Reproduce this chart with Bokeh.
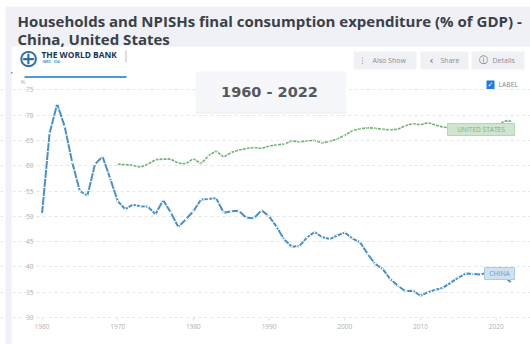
from bokeh.plotting import figure
from bokeh.models import Label, BoxAnnotation, Range1d, FixedTicker
from bokeh.embed import file_html
from bokeh.resources import INLINE

years_china = list(range(1960, 2023))
china = [50.5, 66.4, 72.2, 67.7, 60.6, 55.0, 54.1, 60.3, 61.8, 57.5,
         53.0, 51.4, 52.3, 52.0, 51.9, 50.4, 53.2, 50.8, 47.9, 49.4,
         51.0, 53.3, 53.4, 53.6, 50.7, 51.0, 51.1, 49.7, 49.6, 51.2,
         50.0, 47.9, 45.4, 44.0, 44.1, 45.8, 46.9, 45.9, 45.5, 46.2,
         46.8, 45.6, 44.9, 42.6, 40.6, 39.6, 37.6, 36.3, 35.2, 35.3,
         34.3, 35.0, 35.5, 35.9, 36.9, 37.9, 38.7, 38.6, 38.5, 39.0,
         38.2, 38.1, 36.9]
years_us = list(range(1970, 2023))
us = [60.3, 60.2, 60.1, 59.7, 60.3, 61.2, 61.3, 61.3, 60.5, 60.4,
      61.4, 60.4, 62.0, 62.9, 61.7, 62.6, 63.1, 63.4, 63.6, 63.4,
      63.9, 64.1, 64.3, 64.9, 64.7, 64.9, 65.0, 64.5, 64.8, 65.3,
      66.0, 66.9, 67.3, 67.5, 67.4, 67.2, 67.1, 67.2, 67.9, 68.3,
      68.1, 68.5, 68.0, 67.6, 67.5, 67.9, 68.0, 68.0, 68.0, 68.0,
      67.5, 68.8, 68.8]
x_ticks = [1960, 1970, 1980, 1990, 2000, 2010, 2020]
y_ticks = [30, 35, 40, 45, 50, 55, 60, 65, 70, 75]
title_lines = ["Households and NPISHs final consumption expenditure (% of GDP) -",
               "China, United States"]

BLUE = "#4a90c6"
GREEN = "#6fb071"


def fx(px):
    return 1960 + (px - 41.5) / 7.57


def fy(py):
    return 30 + (317 - py) / 5.06


W, H = 530, 344
p = figure(width=W, height=H, output_backend="svg", toolbar_location=None,
           x_range=Range1d(fx(0), fx(W)), y_range=Range1d(fy(H), fy(0)),
           min_border=0)
p.outline_line_color = None
p.background_fill_color = "white"
p.border_fill_color = "white"

p.xgrid.visible = False
p.ygrid.grid_line_color = "#e6e6e6"
p.ygrid.grid_line_dash = "3 3"
p.ygrid.grid_line_width = 1
p.ygrid[0].bounds = (fx(38), fx(525))
p.xaxis.ticker = FixedTicker(ticks=x_ticks)
p.yaxis.ticker = FixedTicker(ticks=y_ticks)
for ax in (p.xaxis[0], p.yaxis[0]):
    ax.axis_line_color = None
    ax.major_tick_line_color = None
    ax.minor_tick_line_color = None
    ax.major_label_text_color = "#b0b0b0"
    ax.major_label_text_font = "Open Sans"
    ax.major_label_text_font_size = "6.5px"
p.yaxis[0].major_label_standoff = -39
p.xaxis[0].major_label_standoff = -27

p.segment(x_ticks, [fy(317)] * len(x_ticks), x_ticks, [fy(320)] * len(x_ticks),
          line_color="#e0e0e0", line_width=1)
p.line(years_us, us, line_color=GREEN, line_width=1.6, line_dash="3 1")
p.line(years_china, china, line_color=BLUE, line_width=2, line_dash="8 1")
p.scatter(years_china, china, size=2, fill_color="white", line_color=None)
p.scatter(years_us, us, size=1.2, fill_color="white", line_color=None)


def box(x0, y0, x1, y1, fill, line=None, level="underlay"):
    b = BoxAnnotation(left=fx(x0), right=fx(x1), top=fy(y0), bottom=fy(y1),
                      fill_color=fill, fill_alpha=1, line_color=line,
                      line_alpha=1 if line else 0, level=level)
    p.add_layout(b)


def text(x, y, s, size, color, style="normal", font="Open Sans", align="left", level="underlay"):
    p.add_layout(Label(x=fx(x), y=fy(y), text=s, text_font_size=f"{size}px", text_color=color,
                       text_font=font, text_font_style=style, text_align=align,
                       text_baseline="middle", level=level))


# title band and left strip
box(5, 6, 530, 46, "#eff1f6")
box(5, 46, 11, 344, "#eff1f6")
text(17, 20, title_lines[0], 15, "#3a4048", "bold")
text(17, 38, title_lines[1], 15, "#3a4048", "bold")

# logo
text(28, 58, "\u2295", 25, "#2f6f9f", font="DejaVu Sans", align="center")
text(41, 54, "THE WORLD BANK", 8.4, "#16365c", "bold")
text(42, 60.5, "IBRD \u00b7 IDA", 3.5, "#4a9bd0", "bold")
box(125, 50, 126, 62, "#b8bcc2")
box(24, 75.5, 126, 77.5, "#4f9bd4")
box(10.5, 71.5, 12, 73, "#4f9bd4")
text(20, 81, "%", 6, "#b0b0b0")

# period box
box(195, 71, 346, 113, "#f6f7fa")
box(195, 112, 346, 113, "#e9edf3")
text(269, 91, "1960 - 2022", 14.5, "#55585c", "bold", font="DejaVu Sans", align="center")

# buttons
box(353, 51, 416, 69, "#f0f1f5")
text(362, 59.5, "\u22ee", 7.5, "#666a70", font="DejaVu Sans", align="center")
text(372, 59.5, "Also Show", 7, "#8a8d92")
box(420, 51, 468, 69, "#f0f1f5")
text(431, 59.5, "\u2039", 11, "#666a70", font="DejaVu Sans", align="center")
text(440, 59.5, "Share", 7, "#8a8d92")
box(471, 51, 524, 69, "#f0f1f5")
text(483, 59.5, "\u24d8", 9, "#666a70", font="DejaVu Sans", align="center")
text(492, 59.5, "Details", 7, "#8a8d92")

# checkbox
box(486, 80, 494, 88.5, "#1e7be0")
text(490, 84, "\u2713", 7, "white", "bold", font="DejaVu Sans", align="center")
text(498, 84, "LABEL", 6.8, "#85888c")

# series tags, above the lines
box(447, 123, 514, 135, "#d0e5d0", "#b4d6b4", level="overlay")
text(480.5, 129, "UNITED STATES", 6.6, "#7fae7f", align="center", level="overlay")
box(484, 267, 514, 279, "#cfe2f1", "#a9cde6", level="overlay")
text(499, 273, "CHINA", 6.8, "#6a9cc4", align="center", level="overlay")

open("out.html", "w").write(file_html(p, INLINE))
